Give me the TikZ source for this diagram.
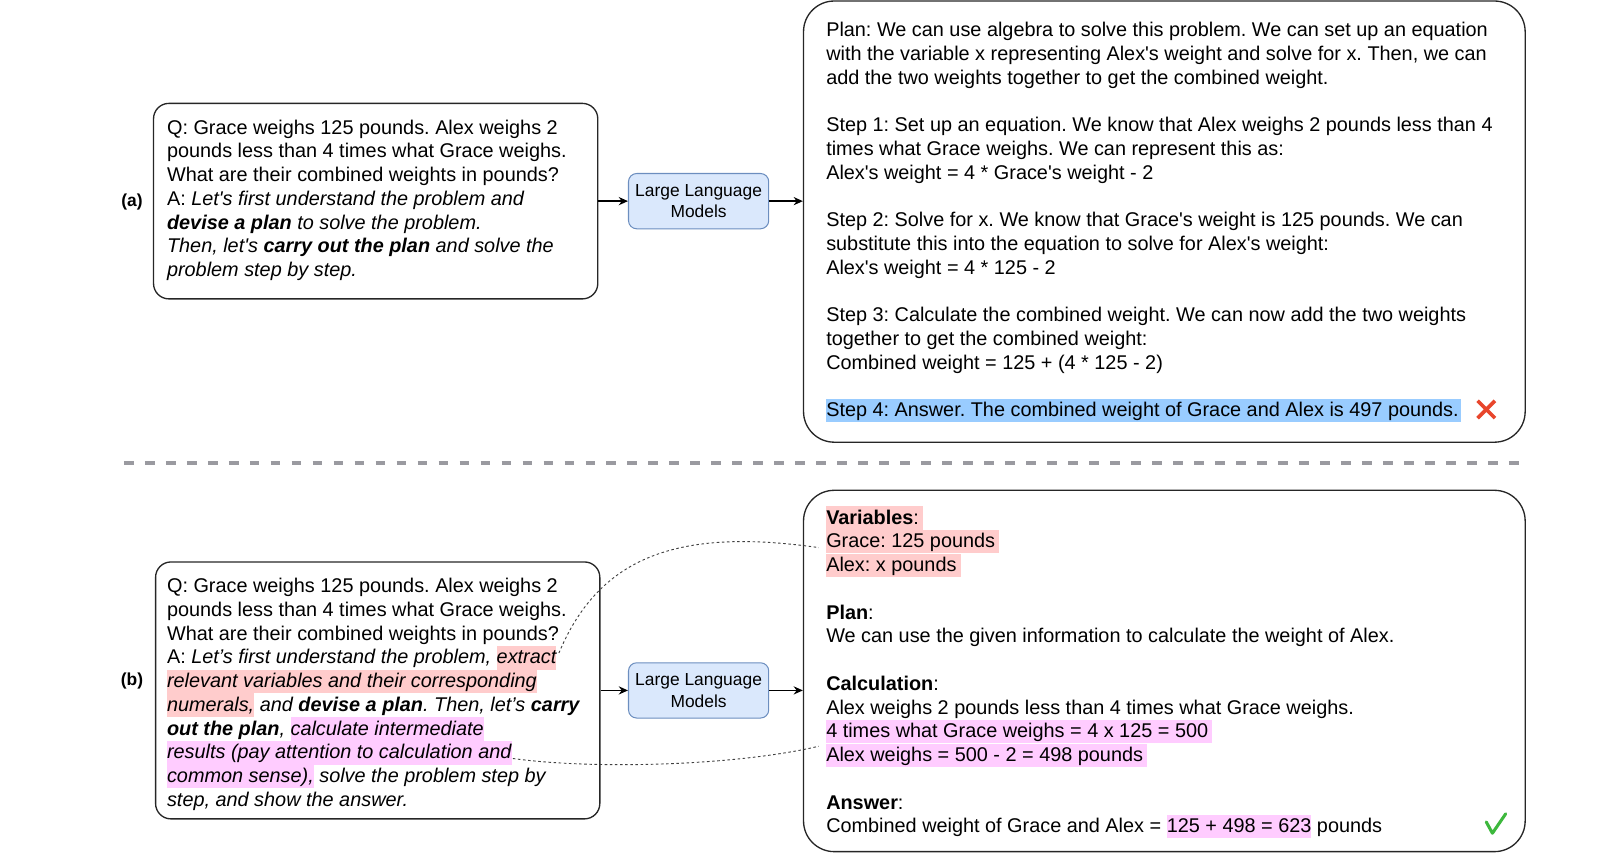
\documentclass[tikz,border=0pt]{standalone}
\usepackage{fontspec}
\setmainfont{Liberation Sans}
\usetikzlibrary{arrows.meta}
\definecolor{hlred}{HTML}{FFCCCC}
\definecolor{hlmag}{HTML}{FFCCFF}
\definecolor{hlblue}{HTML}{99CCFF}
\definecolor{llmfill}{HTML}{DAE8FC}
\definecolor{llmdraw}{HTML}{6C8EBF}
\definecolor{sepgray}{HTML}{9A9AA0}
\definecolor{xred}{HTML}{E8462C}
\definecolor{ckgreen}{HTML}{3DB83D}
\definecolor{boxline}{HTML}{262626}
\newcommand\sq{\textquotesingle}
\newcommand\hlbox[2]{{\setlength\fboxsep{0pt}\colorbox{#1}{\rule[-5.5pt]{0pt}{23pt}#2}}}
\newcommand\txtblock[1]{\parbox[t]{900pt}{\fontsize{19.4}{23.2}\selectfont\frenchspacing\raggedright #1}}
\tikzset{
  qbox/.style={draw=boxline, line width=1.3pt, rounded corners=15pt, inner sep=0pt},
  outbox/.style={draw=boxline, line width=1.3pt, rounded corners=30pt, inner sep=0pt},
  llmbox/.style={draw=llmdraw, fill=llmfill, line width=1pt, rounded corners=8pt,
    minimum width=137pt, minimum height=54pt, inner sep=0pt, align=center,
    font=\fontsize{17}{21}\selectfont},
  txt/.style={anchor=base west, inner sep=0pt},
  lab/.style={font=\fontsize{17}{20}\selectfont\bfseries, inner sep=0pt},
  arr/.style={-{Stealth[length=9pt,width=8pt]}, line width=1.3pt, draw=black},
  sepline/.style={draw=sepgray, line width=3.5pt, dash pattern=on 9.5pt off 11pt},
  dotc/.style={draw=black!75, line width=0.9pt, dash pattern=on 2.5pt off 2.5pt},
}
\begin{document}
\begin{tikzpicture}[x=1pt,y=-1pt]
\useasboundingbox (0,0) rectangle (1568,839.2);

% ---------- (a) ----------
\node[lab] (la) at (129,197) {(a)};
\node[qbox, minimum width=434pt, minimum height=191pt] (boxa) at (367,196.5) {};
\node[txt] (ta) at (163,131) {\txtblock{%
Q: Grace weighs 125 pounds. Alex weighs 2\\
pounds less than 4 times what Grace weighs.\\
What are their combined weights in pounds?\\
A: \textit{Let\sq s first understand the problem and}\\
\textbf{\textit{devise a plan}} \textit{to solve the problem.}\\
\textit{Then, let\sq s \textbf{carry out the plan} and solve the}\\
\textit{problem step by step.}}};
\node[llmbox] (llma) at (682.5,196.5) {Large Language\\Models};
\node[outbox, minimum width=705pt, minimum height=431pt] (outa) at (1137.5,216.5) {};
\node[txt] (tra) at (807,36) {\txtblock{%
Plan: We can use algebra to solve this problem. We can set up an equation\\
with the variable x representing Alex\sq s weight and solve for x. Then, we can\\
add the two weights together to get the combined weight.\\[23.2pt]
Step 1: Set up an equation. We know that Alex weighs 2 pounds less than 4\\
times what Grace weighs. We can represent this as:\\
Alex\sq s weight = 4 * Grace\sq s weight - 2\\[23.2pt]
Step 2: Solve for x. We know that Grace\sq s weight is 125 pounds. We can\\
substitute this into the equation to solve for Alex\sq s weight:\\
Alex\sq s weight = 4 * 125 - 2\\[23.2pt]
Step 3: Calculate the combined weight. We can now add the two weights\\
together to get the combined weight:\\
Combined weight = 125 + (4 * 125 - 2)\\[23.2pt]
\hlbox{hlblue}{Step 4: Answer. The combined weight of Grace and Alex is 497 pounds.\hspace{2pt}}}};
\draw[arr] (boxa.east) -- (llma.west);
\draw[arr] (llma.east) -- (llma.east -| outa.west);
\coordinate (xm) at (1452,400);
\draw[xred, line width=3.5pt] (xm) ++(-8.5,-8.5) -- ++(17,17) (xm) ++(8.5,-8.5) -- ++(-17,17);

% ---------- separator ----------
\coordinate (sepL) at (121,452.3);
\coordinate (sepR) at (1490,452.3);
\draw[sepline] (sepL) -- (sepR);

% ---------- (b) ----------
\node[lab] (lb) at (129,665) {(b)};
\node[qbox, minimum width=434pt, minimum height=251pt] (boxb) at (369,674.5) {};
\node[txt] (tb) at (163,579) {\txtblock{%
Q: Grace weighs 125 pounds. Alex weighs 2\\
pounds less than 4 times what Grace weighs.\\
What are their combined weights in pounds?\\
A: \textit{Let’s first understand the problem, \hlbox{hlred}{extract}}\\
\hlbox{hlred}{\textit{relevant variables and their corresponding}}\\
\hlbox{hlred}{\textit{numerals,}} \textit{and \textbf{devise a plan}. Then, let’s \textbf{carry}}\\
\textit{\textbf{out the plan}, \hlbox{hlmag}{calculate intermediate}}\\
\hlbox{hlmag}{\textit{results (pay attention to calculation and}}\\
\hlbox{hlmag}{\textit{common sense),}} \textit{solve the problem step by}\\
\textit{step, and show the answer.}}};
\node[llmbox] (llmb) at (682.5,674.5) {Large Language\\Models};
\node[outbox, minimum width=705pt, minimum height=353pt] (outb) at (1137.5,655.5) {};
\node[txt] (trb) at (807,512) {\txtblock{%
\hlbox{hlred}{\textbf{Variables}:\hspace{4pt}}\\
\hlbox{hlred}{Grace: 125 pounds\hspace{4pt}}\\
\hlbox{hlred}{Alex: x pounds\hspace{4pt}}\\[23.2pt]
\textbf{Plan}:\\
We can use the given information to calculate the weight of Alex.\\[23.2pt]
\textbf{Calculation}:\\
Alex weighs 2 pounds less than 4 times what Grace weighs.\\
\hlbox{hlmag}{4 times what Grace weighs = 4 x 125 = 500\hspace{4pt}}\\
\hlbox{hlmag}{Alex weighs = 500 - 2 = 498 pounds\hspace{4pt}}\\[23.2pt]
\textbf{Answer}:\\
Combined weight of Grace and Alex = \hlbox{hlmag}{125 + 498 = 623} pounds}};
\draw[arr] (boxb.east) -- (llmb.west);
\draw[arr] (llmb.east) -- (llmb.east -| outb.west);
\coordinate (ck) at (1461,805);
\draw[ckgreen, line width=3pt, line cap=round, line join=round] (ck) ++(-9,-2) -- ++(6,11) -- ++(13,-19);

% dotted links
\coordinate (d1s) at (546,638);
\coordinate (d1e) at (800,535);
\draw[dotc] (d1s) .. controls (585,545) and (660,515) .. (d1e);
\coordinate (d2s) at (501,741);
\coordinate (d2e) at (800,729);
\draw[dotc] (d2s) .. controls (580,752) and (720,748) .. (d2e);
\end{tikzpicture}
\end{document}
